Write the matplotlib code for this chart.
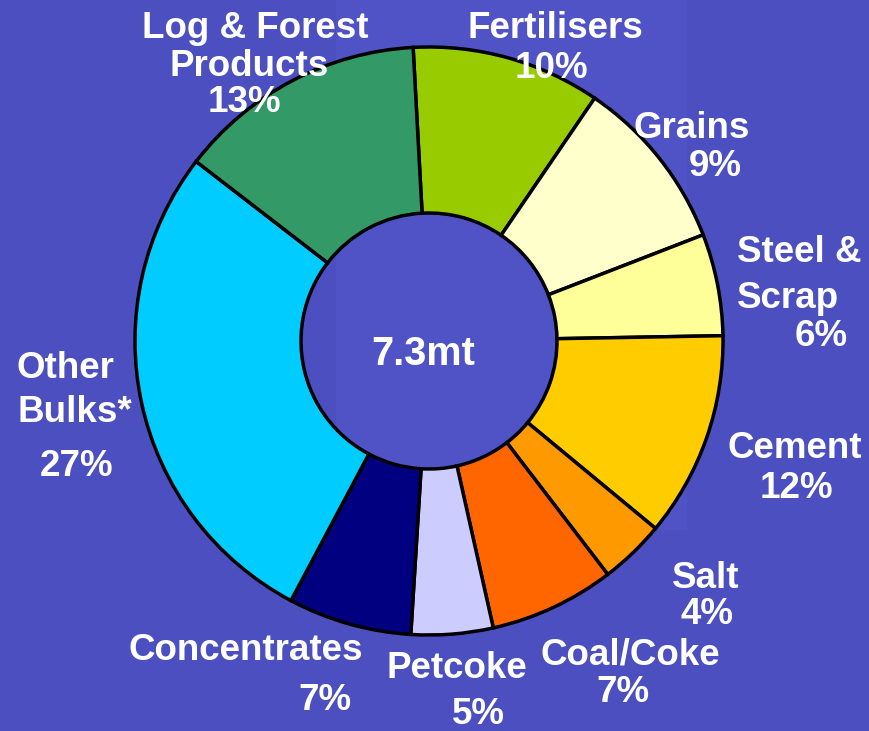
import matplotlib
matplotlib.use("Agg")
import matplotlib.pyplot as plt
from matplotlib.patches import Rectangle

plt.rcParams['font.family'] = ['Liberation Sans', 'DejaVu Sans']

# clockwise from the top; slice sizes as drawn (labels show the rounded %)
categories = ['Fertilisers', 'Grains', 'Steel & Scrap', 'Cement', 'Salt',
              'Coal/Coke', 'Petcoke', 'Concentrates', 'Other Bulks*',
              'Log & Forest Products']
shares = [10.4, 9.6, 5.6, 11.3, 3.6, 6.9, 4.5, 6.8, 27.7, 13.7]
colours = ['#99CC00', '#FFFFCC', '#FFFF99', '#FFCC00', '#FF9900',
           '#FF6600', '#CCCCFF', '#000080', '#00CCFF', '#339966']
total_label = '7.3mt'

# label text split in lines, as laid out on the slide (pixel x, pixel y, ha)
label_lines = [
    ('Log & Forest', 255, 25, 'center'), ('Products', 249, 63, 'center'), ('13%', 244, 100, 'center'),
    ('Fertilisers', 555, 25, 'center'), ('10%', 551, 65, 'center'),
    ('Grains', 750, 125, 'right'), ('9%', 742, 163, 'right'),
    ('Steel &', 737, 250, 'left'), ('Scrap', 737, 295, 'left'), ('6%', 795, 333, 'left'),
    ('Cement', 795, 445, 'center'), ('12%', 796, 485, 'center'),
    ('Salt', 706, 575, 'center'), ('4%', 707, 612, 'center'),
    ('Coal/Coke', 630, 652, 'center'), ('7%', 623, 690, 'center'),
    ('Petcoke', 457, 665, 'center'), ('5%', 478, 712, 'center'),
    ('Concentrates', 363, 648, 'right'), ('7%', 352, 697, 'right'),
    ('Other', 17, 365, 'left'), ('Bulks*', 17, 410, 'left'), ('27%', 40, 463, 'left'),
]

W, H = 869, 731
bg = '#4B4FC0'
fig = plt.figure(figsize=(W / 100, H / 100), dpi=100, facecolor=bg)
ax = fig.add_axes([0, 0, 1, 1])
ax.set_facecolor(bg)

# faint plot area behind the donut
ax.add_patch(Rectangle((336, H - 530), 687 - 336, 530, facecolor='#4F53C6',
                       edgecolor='none', zorder=0))

cx, cy, r = 429, H - 341, 294
ax.pie(shares, colors=colours, startangle=93.1, counterclock=False,
       center=(cx, cy), radius=r, frame=True,
       wedgeprops=dict(edgecolor='black', linewidth=2.5, width=r - 128))
ax.set_xlim(0, W)
ax.set_ylim(0, H)
ax.set_aspect('equal')
ax.axis('off')

ax.text(423, H - 354, total_label, color='white', fontsize=28.5,
        fontweight='bold', ha='center', va='center')

for txt, x, y, ha in label_lines:
    ax.text(x, H - y - 3, txt, color='white', fontsize=26.5, fontweight='bold',
            ha=ha, va='center')

fig.savefig('out.png', dpi=100, facecolor=bg)
